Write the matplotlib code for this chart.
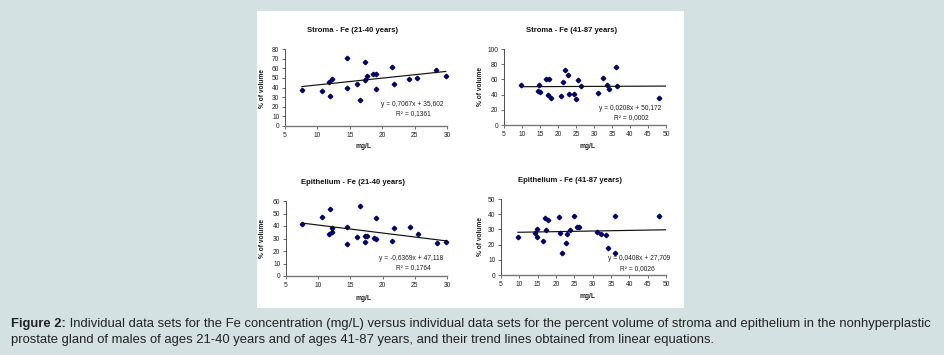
import numpy as np
import matplotlib
matplotlib.use('Agg')
import matplotlib.pyplot as plt
from matplotlib.patches import Rectangle

plt.rcParams['font.family'] = ['Liberation Sans', 'DejaVu Sans']

W, H = 944, 355

# values: Fe (mg/L) vs % of volume
stroma_young_fe = [7.6, 10.7, 11.8, 11.9, 12.3, 14.5, 14.6, 16.1, 16.6, 17.3, 17.3,
                   17.6, 18.6, 19.0, 19.05, 21.5, 21.8, 24.2, 25.3, 28.3, 29.8]
stroma_young_vol = [37.7, 36.3, 46.0, 30.8, 48.8, 39.8, 70.6, 43.9, 26.6, 66.0, 47.4,
                    52.2, 54.3, 53.6, 38.8, 61.6, 43.3, 48.8, 50.2, 58.1, 51.9]

stroma_old_fe = [9.8, 14.4, 14.8, 15.0, 16.6, 17.5, 17.1, 18.0, 20.7, 21.3, 21.85, 22.8,
                 23.1, 24.4, 24.9, 25.6, 26.4, 31.1, 32.5, 33.6, 34.2, 36.0, 36.3, 48.1]
stroma_old_vol = [52.2, 44.7, 52.6, 43.0, 61.0, 60.5, 39.5, 36.0, 38.6, 56.6, 72.4, 65.8,
                  40.4, 40.8, 34.6, 58.8, 51.8, 42.1, 62.3, 52.6, 47.8, 76.3, 50.9, 35.0]

epi_young_fe = [7.5, 10.65, 11.84, 11.74, 12.2, 12.2, 14.5, 14.5, 16.1, 16.55, 17.3,
                17.6, 17.3, 18.6, 19.0, 19.0, 21.5, 21.8, 24.3, 25.5, 28.4, 29.9]
epi_young_vol = [41.6, 47.2, 53.3, 33.6, 38.7, 35.5, 39.5, 25.3, 31.2, 56.0, 31.7,
                 31.7, 26.9, 30.7, 46.1, 29.6, 28.3, 38.1, 39.5, 33.9, 26.1, 26.9]

epi_old_fe = [9.6, 14.4, 14.9, 14.8, 16.5, 17.1, 17.4, 17.9, 20.7, 21.2, 21.5, 22.7,
              23.0, 23.9, 24.8, 25.7, 26.2, 31.1, 32.4, 33.6, 34.2, 36.1, 36.0, 48.0]
epi_old_vol = [24.8, 27.6, 30.5, 25.2, 22.4, 37.3, 29.4, 36.0, 37.9, 27.4, 14.7, 20.8,
               26.8, 29.8, 38.6, 31.4, 31.8, 28.1, 27.2, 26.5, 17.8, 38.6, 14.7, 38.6]

titles = ["Stroma - Fe (21-40 years)", "Stroma - Fe (41-87 years)",
          "Epithelium - Fe (21-40 years)", "Epithelium - Fe (41-87 years)"]
slopes = [0.7067, 0.0208, -0.6369, 0.0408]
intercepts = [35.602, 50.172, 47.118, 27.709]
eq_labels = ["y = 0,7067x + 35,602", "y = 0,0208x + 50,172",
             "y = -0,6369x + 47,118", "y = 0,0408x + 27,709"]
r2_labels = ["R² = 0,1361", "R² = 0,0002", "R² = 0,1764", "R² = 0,0026"]

xs = [stroma_young_fe, stroma_old_fe, epi_young_fe, epi_old_fe]
ys = [stroma_young_vol, stroma_old_vol, epi_young_vol, epi_old_vol]
xmax = [30, 50, 30, 50]
ymax = [80, 100, 60, 50]
ystep = [10, 20, 10, 10]
line_to_edge = [False, True, False, True]

# layout in pixels of the reference (left, top, right, bottom of plot area)
boxes = [(285, 49, 447, 126), (504, 49, 666, 125), (286, 201, 447, 276), (501, 199, 666, 275)]
title_pos = [(353, 31), (572, 30), (353, 183), (570, 180)]
xlab_pos = [(363, 147), (588, 146), (364, 299), (588, 296)]
ylab_pos = [(262, 88), (481, 87), (262, 238), (481, 237)]
eq_pos = [(412, 104), (630, 109), (411, 259), (639, 259)]
r2_pos = [(413, 114), (631, 118), (413, 268), (637, 269)]

bg = '#d3e1e3'
fig = plt.figure(figsize=(W / 100, H / 100), dpi=100, facecolor=bg)
fig.patches.append(Rectangle((257 / W, 1 - 308 / H), 427 / W, 297 / H,
                             transform=fig.transFigure, facecolor='white',
                             edgecolor='none', zorder=-10))


def fx(px):
    return px / W


def fy(py):
    return 1 - py / H


small = 4.8
for i in range(4):
    x0, y0, x1, y1 = boxes[i]
    ax = fig.add_axes([fx(x0), fy(y1), (x1 - x0) / W, (y1 - y0) / H])
    ax.set_facecolor('none')
    x = np.array(xs[i])
    y = np.array(ys[i])
    ax.plot(x, y, 'D', color='#000066', markersize=2.3, clip_on=False)
    xe = xmax[i] if line_to_edge[i] else x.max()
    lx = np.array([x.min(), xe])
    ax.plot(lx, slopes[i] * lx + intercepts[i], color='#111111', lw=0.85)
    ax.set_xlim(5, xmax[i])
    ax.set_ylim(0, ymax[i])
    ax.set_xticks(np.arange(5, xmax[i] + 1, 5))
    ax.set_yticks(np.arange(0, ymax[i] + 1, ystep[i]))
    for s in ['top', 'right']:
        ax.spines[s].set_visible(False)
    ax.spines['left'].set_color('#333333')
    ax.spines['left'].set_linewidth(0.6)
    ax.spines['bottom'].set_color('#777777')
    ax.spines['bottom'].set_linewidth(1.0)
    ax.tick_params(labelsize=small, length=2, width=0.5, pad=2, colors='#333333',
                   labelcolor='#222222')

    fig.text(fx(title_pos[i][0]), fy(title_pos[i][1]), titles[i], fontsize=5.5,
             fontweight='bold', ha='center', va='center', color='#111111')
    fig.text(fx(xlab_pos[i][0]), fy(xlab_pos[i][1]), "mg/L", fontsize=small,
             fontweight='bold', ha='center', va='center', color='#222222')
    fig.text(fx(ylab_pos[i][0]), fy(ylab_pos[i][1]), "% of volume", fontsize=small,
             fontweight='bold', ha='center', va='center', rotation=90, color='#222222')
    fig.text(fx(eq_pos[i][0]), fy(eq_pos[i][1]), eq_labels[i], fontsize=small,
             ha='center', va='center', color='#222222')
    fig.text(fx(r2_pos[i][0]), fy(r2_pos[i][1]), r2_labels[i], fontsize=small,
             ha='center', va='center', color='#222222')

# caption
cap_size = 9.4
renderer = fig.canvas.get_renderer()
t = fig.text(fx(11), fy(324), "Figure 2:", fontsize=cap_size, fontweight='bold',
             ha='left', va='center', color='#222222')
bb = t.get_window_extent(renderer=renderer)
fig.text(bb.x1 / W, fy(324),
         " Individual data sets for the Fe concentration (mg/L) versus individual data sets "
         "for the percent volume of stroma and epithelium in the nonhyperplastic",
         fontsize=cap_size, ha='left', va='center', color='#222222')
fig.text(fx(11), fy(340),
         "prostate gland of males of ages 21-40 years and of ages 41-87 years, "
         "and their trend lines obtained from linear equations.",
         fontsize=cap_size, ha='left', va='center', color='#222222')

fig.savefig('out.png', dpi=100, facecolor=bg)
